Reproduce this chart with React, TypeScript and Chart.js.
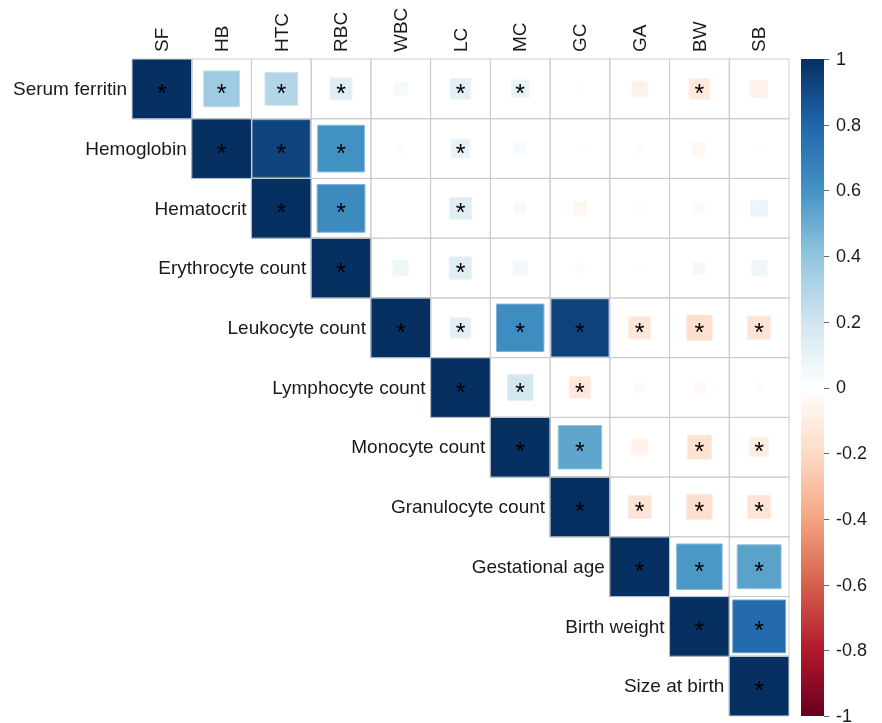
import React, { useEffect, useRef } from "react";
import { Chart, registerables } from "chart.js";

Chart.register(...registerables);

const colLabels = ["SF", "HB", "HTC", "RBC", "WBC", "LC", "MC", "GC", "GA", "BW", "SB"];
const rowLabels = [
  "Serum ferritin",
  "Hemoglobin",
  "Hematocrit",
  "Erythrocyte count",
  "Leukocyte count",
  "Lymphocyte count",
  "Monocyte count",
  "Granulocyte count",
  "Gestational age",
  "Birth weight",
  "Size at birth",
];

// upper triangle (incl. diagonal), row i starts at column i
const corrSF = [1, 0.36, 0.3, 0.135, 0.05, 0.12, 0.09, 0.015, -0.07, -0.12, -0.08];
const corrHB = [1, 0.93, 0.61, 0.02, 0.1, 0.04, -0.015, -0.02, -0.045, 0.01];
const corrHTC = [1, 0.64, 0.004, 0.135, 0.04, -0.05, 0.02, 0.03, 0.08];
const corrRBC = [1, 0.07, 0.14, 0.055, 0.02, 0.015, 0.045, 0.07];
const corrWBC = [1, 0.12, 0.63, 0.93, -0.14, -0.18, -0.15];
const corrLC = [1, 0.185, -0.13, -0.03, -0.04, -0.02];
const corrMC = [1, 0.53, -0.07, -0.165, -0.1];
const corrGC = [1, -0.15, -0.18, -0.15];
const corrGA = [1, 0.58, 0.54];
const corrBW = [1, 0.78];
const corrSB = [1];
const corrRows = [corrSF, corrHB, corrHTC, corrRBC, corrWBC, corrLC, corrMC, corrGC, corrGA, corrBW, corrSB];

const sigSF = [1, 1, 1, 1, 0, 1, 1, 0, 0, 1, 0];
const sigHB = [1, 1, 1, 0, 1, 0, 0, 0, 0, 0];
const sigHTC = [1, 1, 0, 1, 0, 0, 0, 0, 0];
const sigRBC = [1, 0, 1, 0, 0, 0, 0, 0];
const sigWBC = [1, 1, 1, 1, 1, 1, 1];
const sigLC = [1, 1, 1, 0, 0, 0];
const sigMC = [1, 1, 0, 1, 1];
const sigGC = [1, 1, 1, 1];
const sigGA = [1, 1, 1];
const sigBW = [1, 1];
const sigSB = [1];
const sigRows = [sigSF, sigHB, sigHTC, sigRBC, sigWBC, sigLC, sigMC, sigGC, sigGA, sigBW, sigSB];

const colorbarTicks = [1, 0.8, 0.6, 0.4, 0.2, 0, -0.2, -0.4, -0.6, -0.8, -1];

const PALETTE = ["#67001F", "#B2182B", "#D6604D", "#F4A582", "#FDDBC7", "#FFFFFF", "#D1E5F0", "#92C5DE", "#4393C3", "#2166AC", "#053061"];
const FONT = '"Liberation Sans", Arial, Helvetica, sans-serif';

function hexToRgb(h: string) {
  return [parseInt(h.slice(1, 3), 16), parseInt(h.slice(3, 5), 16), parseInt(h.slice(5, 7), 16)];
}
function colorRgb(v: number) {
  const t = ((Math.max(-1, Math.min(1, v)) + 1) / 2) * (PALETTE.length - 1);
  const i = Math.min(PALETTE.length - 2, Math.floor(t));
  const f = t - i;
  const a = hexToRgb(PALETTE[i]);
  const b = hexToRgb(PALETTE[i + 1]);
  return [0, 1, 2].map((k) => Math.round(a[k] + (b[k] - a[k]) * f));
}
function colorFor(v: number, lighten = 0) {
  const c = colorRgb(v).map((x) => Math.round(x + (255 - x) * lighten));
  return `rgb(${c[0]},${c[1]},${c[2]})`;
}

type Pt = { x: number; y: number; v: number; s: number };
const points: Pt[] = [];
corrRows.forEach((row, i) => {
  row.forEach((v, k) => {
    points.push({ x: i + k, y: i, v, s: sigRows[i][k] });
  });
});

const overlayPlugin = {
  id: "corrOverlay",
  afterDatasetsDraw(chart: any) {
    const { ctx, chartArea, scales } = chart;
    const xs = scales.x;
    const ys = scales.y;
    ctx.save();
    // grid over upper triangle
    ctx.strokeStyle = "rgba(200,200,200,0.85)";
    ctx.lineWidth = 1;
    for (let i = 0; i < rowLabels.length; i++) {
      for (let j = i; j < colLabels.length; j++) {
        const x0 = xs.getPixelForValue(j - 0.5);
        const x1 = xs.getPixelForValue(j + 0.5);
        const y0 = ys.getPixelForValue(i - 0.5);
        const y1 = ys.getPixelForValue(i + 0.5);
        ctx.strokeRect(x0, y0, x1 - x0, y1 - y0);
      }
    }
    // stars
    ctx.fillStyle = "#000";
    ctx.font = `25px ${FONT}`;
    ctx.textAlign = "center";
    ctx.textBaseline = "alphabetic";
    const m = ctx.measureText("*");
    const asc = m.actualBoundingBoxAscent || 14;
    const desc = m.actualBoundingBoxDescent || -6;
    points.forEach((p) => {
      if (!p.s) return;
      const cx = xs.getPixelForValue(p.x);
      const cy = ys.getPixelForValue(p.y);
      ctx.fillText("*", cx, cy + (asc - desc) / 2);
    });
    // row labels
    ctx.fillStyle = "#1a1a1a";
    ctx.font = `19px ${FONT}`;
    ctx.textAlign = "right";
    ctx.textBaseline = "middle";
    rowLabels.forEach((lab, i) => {
      ctx.fillText(lab, xs.getPixelForValue(i - 0.5) - 5, ys.getPixelForValue(i) + 1);
    });
    // column labels
    ctx.textAlign = "left";
    colLabels.forEach((lab, j) => {
      ctx.save();
      ctx.translate(xs.getPixelForValue(j) + 1, chartArea.top - 7);
      ctx.rotate(-Math.PI / 2);
      ctx.fillText(lab, 0, 0);
      ctx.restore();
    });
    // colorbar
    const n = rowLabels.length;
    const valToY = (v: number) => ys.getPixelForValue(((1 - v) / 2) * n - 0.5);
    const bx0 = chartArea.right + 12;
    const bx1 = chartArea.right + 35;
    const yTop = valToY(1);
    const yBot = valToY(-1);
    const grad = ctx.createLinearGradient(0, yBot, 0, yTop);
    for (let k = 0; k <= 100; k++) {
      const v = -1 + (2 * k) / 100;
      grad.addColorStop(k / 100, colorFor(v));
    }
    ctx.fillStyle = grad;
    ctx.fillRect(bx0, yTop, bx1 - bx0, yBot - yTop);
    ctx.strokeStyle = "#666";
    ctx.lineWidth = 1;
    ctx.fillStyle = "#1a1a1a";
    ctx.font = `18px ${FONT}`;
    ctx.textAlign = "left";
    ctx.textBaseline = "middle";
    colorbarTicks.forEach((t) => {
      const y = Math.round(valToY(t)) + 0.5;
      ctx.beginPath();
      ctx.moveTo(bx1, y);
      ctx.lineTo(bx1 + 5, y);
      ctx.stroke();
      ctx.fillText(String(t), bx1 + 12, valToY(t) + 1);
    });
    ctx.restore();
  },
};

export default function App() {
  const ref = useRef<HTMLCanvasElement>(null);
  useEffect(() => {
    if (!ref.current) return;
    const cellRadius = (ctx: any) => {
      const chart = ctx.chart;
      const xs = chart.scales.x;
      const raw = ctx.raw as Pt;
      if (!xs || !raw) return 0;
      const cell = Math.abs(xs.getPixelForValue(1) - xs.getPixelForValue(0));
      const side = Math.sqrt(Math.abs(raw.v)) * cell;
      return side / Math.SQRT2;
    };
    const chart = new Chart(ref.current, {
      type: "scatter",
      data: {
        datasets: [
          {
            data: points as any,
            pointStyle: "rect",
            pointRadius: cellRadius as any,
            pointHoverRadius: cellRadius as any,
            pointBackgroundColor: ((c: any) => (c.raw ? colorFor(c.raw.v) : "#fff")) as any,
            pointBorderColor: ((c: any) => (c.raw ? colorFor(c.raw.v, 0.35) : "#fff")) as any,
            pointBorderWidth: 1,
          },
        ],
      },
      options: {
        responsive: false,
        animation: false,
        events: [],
        layout: { padding: { left: 132, top: 59, right: 93, bottom: 7 } },
        plugins: { legend: { display: false }, tooltip: { enabled: false } },
        scales: {
          x: { type: "linear", display: false, min: -0.5, max: 10.5 },
          y: { type: "linear", display: false, min: -0.5, max: 10.5, reverse: true },
        },
      },
      plugins: [overlayPlugin],
    });
    return () => chart.destroy();
  }, []);
  return (
    <div style={{ position: "fixed", left: 0, top: 0, width: 882, height: 723, background: "#fff" }}>
      <canvas ref={ref} width={882} height={723} style={{ display: "block" }} />
    </div>
  );
}
